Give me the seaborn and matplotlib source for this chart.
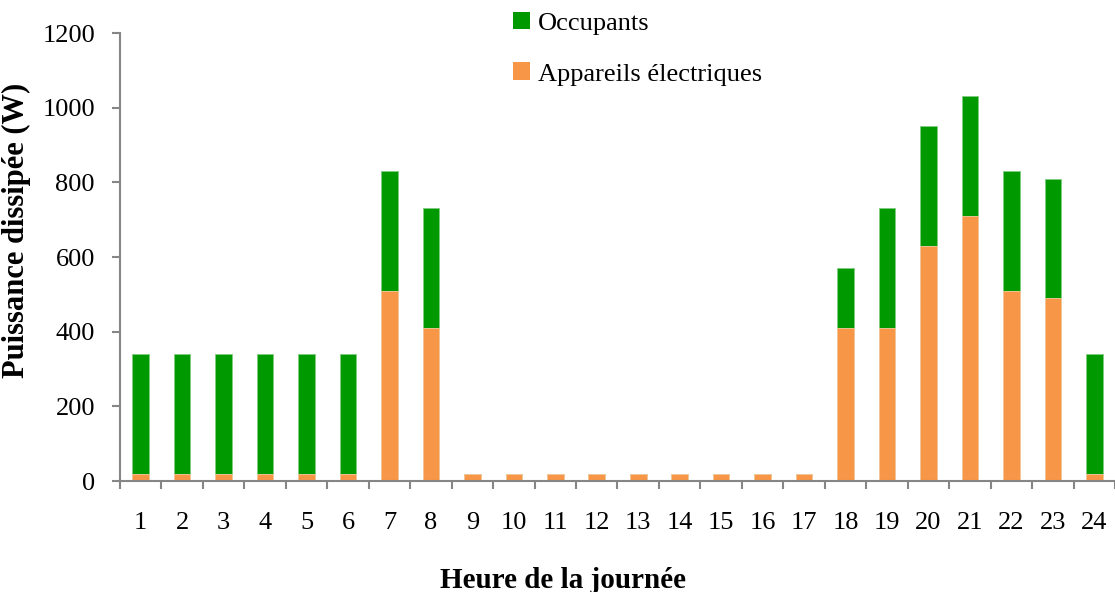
import numpy as np
import pandas as pd
import matplotlib
matplotlib.use("Agg")
import matplotlib.pyplot as plt
import seaborn as sns
from matplotlib.patches import Patch

hours = list(range(1, 25))
appareils = [20, 20, 20, 20, 20, 20, 510, 410, 20, 20, 20, 20,
             20, 20, 20, 20, 20, 410, 410, 630, 710, 510, 490, 20]
occupants = [320, 320, 320, 320, 320, 320, 320, 320, 0, 0, 0, 0,
             0, 0, 0, 0, 0, 160, 320, 320, 320, 320, 320, 320]
y_ticks = [0, 200, 400, 600, 800, 1000, 1200]

green = "#009900"
orange = "#F79646"
axis_grey = "#868686"

sns.set_theme(style="white")
plt.rcParams["font.family"] = ["Liberation Serif", "DejaVu Serif"]
plt.rcParams["text.color"] = "black"
plt.rcParams["axes.labelcolor"] = "black"
plt.rcParams["xtick.color"] = "black"
plt.rcParams["ytick.color"] = "black"

df = pd.DataFrame({
    "heure": [str(h) for h in hours],
    "appareils": appareils,
    "occupants": occupants,
})
df["total"] = df["appareils"] + df["occupants"]

fig = plt.figure(figsize=(11.15, 5.92), dpi=100)
ax = fig.add_axes([120 / 1115, (592 - 481) / 592, (1115 - 120) / 1115, 448 / 592])

sns.barplot(data=df, x="heure", y="total", color=green, saturation=1,
            width=0.4, edgecolor="#7fcc7f", linewidth=0.6, ax=ax)
sns.barplot(data=df, x="heure", y="appareils", color=orange, saturation=1,
            width=0.4, edgecolor="#fbcaa2", linewidth=0.6, ax=ax)

ax.set_ylim(0, 1200)
ax.set_xlim(-0.5, 23.5 - 6 / 41.5)
ax.set_yticks(y_ticks)
ax.set_yticklabels([str(v) for v in y_ticks], fontsize=19)

# category labels centred under bars, tick marks on category boundaries
ax.set_xticks(np.arange(len(hours)))
ax.set_xticklabels([str(h) for h in hours], fontsize=19)
ax.tick_params(axis="x", length=0, pad=22, labelcolor="black")
ax.set_xticks(np.arange(len(hours) + 1) - 0.5, minor=True)
ax.tick_params(axis="x", which="minor", direction="out", length=6,
               width=1.5, color=axis_grey, bottom=True)
ax.tick_params(axis="y", direction="out", length=6, width=1.5,
               color=axis_grey, left=True, pad=12, labelcolor="black")

for side in ["top", "right"]:
    ax.spines[side].set_visible(False)
for side in ["left", "bottom"]:
    ax.spines[side].set_color(axis_grey)
    ax.spines[side].set_linewidth(1.5)

ax.set_xlabel("Heure de la journée", fontsize=21, fontweight="bold", labelpad=24)
ax.set_ylabel("Puissance dissipée (W)", fontsize=22, fontweight="bold", labelpad=8)
ax.xaxis.label.set_x(0.445)
ax.yaxis.label.set_y(0.56)

handles = [Patch(facecolor=green, edgecolor="none", label="Occupants"),
           Patch(facecolor=orange, edgecolor="none", label="Appareils électriques")]
fig.legend(handles=handles, loc="upper left", bbox_to_anchor=(497 / 1115, 1.007),
           frameon=False, fontsize=19, handlelength=0.65, handleheight=0.65,
           handletextpad=0.3, labelspacing=1.05, borderaxespad=0.2)

fig.savefig("out.png", dpi=100)
